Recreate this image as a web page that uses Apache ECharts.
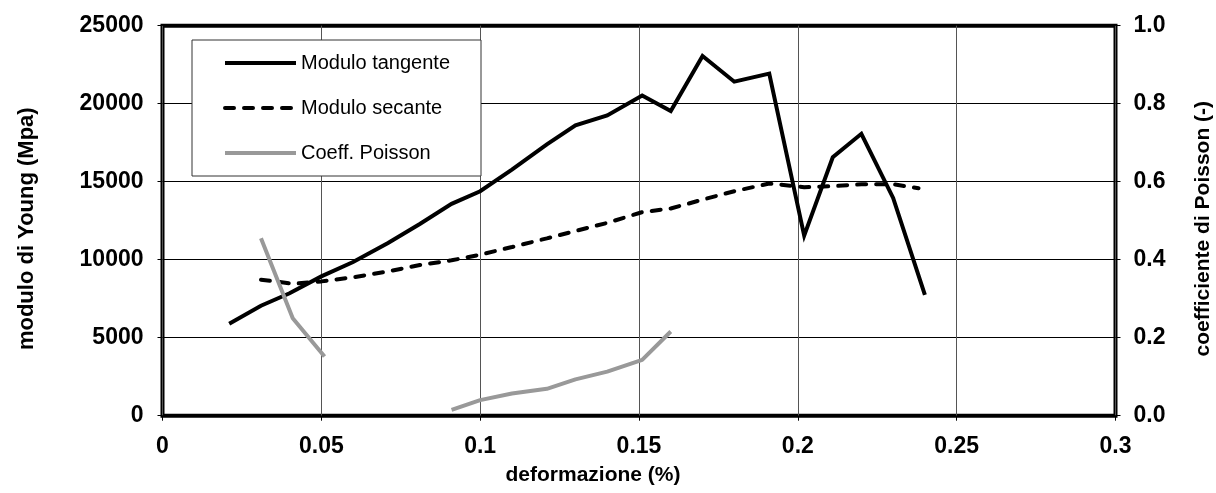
<!DOCTYPE html>
<html>
<head>
<meta charset="utf-8">
<script src="https://cdn.jsdelivr.net/npm/echarts@6/dist/echarts.min.js"></script>
<style>
  html, body { margin: 0; padding: 0; background: #fff; }
  #chart { width: 1216px; height: 493px; }
</style>
</head>
<body>
<div id="chart"></div>
<script>
// Strain values (%) and moduli (MPa) / Poisson ratio per series
const tangentStrain = [0.021, 0.031, 0.040, 0.050, 0.060, 0.071, 0.081, 0.091, 0.100, 0.110, 0.121, 0.130, 0.140, 0.151, 0.160, 0.170, 0.180, 0.191, 0.202, 0.211, 0.220, 0.230, 0.240];
const tangentModulus = [5900, 7050, 7850, 8930, 9850, 11070, 12290, 13580, 14390, 15780, 17390, 18610, 19250, 20530, 19530, 23060, 21410, 21930, 11540, 16570, 18070, 13960, 7750];

const secantStrain = [0.031, 0.041, 0.050, 0.060, 0.071, 0.081, 0.091, 0.100, 0.110, 0.121, 0.130, 0.140, 0.151, 0.160, 0.170, 0.180, 0.191, 0.202, 0.211, 0.220, 0.230, 0.238];
const secantModulus = [8720, 8460, 8610, 8870, 9250, 9660, 9960, 10320, 10810, 11370, 11840, 12360, 13050, 13280, 13850, 14390, 14880, 14650, 14710, 14840, 14840, 14580];

// two separate measurement runs; null splits the line
const poissonStrain = [0.031, 0.041, 0.051, null, 0.091, 0.100, 0.110, 0.121, 0.130, 0.140, 0.151, 0.160];
const poissonRatio = [0.455, 0.250, 0.152, null, 0.015, 0.040, 0.057, 0.069, 0.093, 0.113, 0.143, 0.216];

const xTicks = { min: 0, max: 0.3, interval: 0.05 };
const yLeftTicks = { min: 0, max: 25000, interval: 5000 };
const yRightTicks = { min: 0, max: 1, interval: 0.2 };

const FONT = '"Liberation Sans", Arial, sans-serif';

function pairs(xs, ys) {
  return xs.map((x, i) => (x === null || ys[i] === null) ? ['-', '-'] : [x, ys[i]]);
}

const tickLabel = { fontFamily: FONT, fontWeight: 'bold', fontSize: 23, color: '#000' };
const axisName = { fontFamily: FONT, fontWeight: 'bold', fontSize: 21, color: '#000' };

const chart = echarts.init(document.getElementById('chart'), null, { renderer: 'canvas' });

chart.setOption({
  animation: false,
  backgroundColor: '#fff',
  grid: {
    left: 162.5, right: 100.5, top: 25.7, bottom: 77.3,
    show: true, borderColor: '#000', borderWidth: 4, backgroundColor: 'transparent',
    containLabel: false,
    outerBoundsMode: 'none'
  },
  legend: {
    orient: 'vertical',
    left: 192, top: 40,
    padding: [13, 31, 13, 31],
    itemWidth: 71, itemHeight: 20, itemGap: 25,
    backgroundColor: '#fff',
    borderColor: '#333', borderWidth: 1,
    // line-only keys: hide the marker drawn on top of each line sample
    itemStyle: { opacity: 0 },
    lineStyle: { width: 4 },
    textStyle: { fontFamily: FONT, fontSize: 20, color: '#000' },
    data: ['Modulo tangente', 'Modulo secante', 'Coeff. Poisson']
  },
  xAxis: {
    type: 'value',
    min: xTicks.min, max: xTicks.max, interval: xTicks.interval,
    name: 'deformazione (%)',
    nameLocation: 'middle', nameGap: 49,
    nameTextStyle: Object.assign({}, axisName, { padding: [0, 92, 0, 0] }),
    axisLine: { show: false },
    axisTick: { show: true, length: 5, lineStyle: { color: '#000', width: 1 } },
    axisLabel: Object.assign({ margin: 19 }, tickLabel),
    splitLine: { show: true, lineStyle: { color: '#555', width: 1 } }
  },
  yAxis: [
    {
      type: 'value',
      min: yLeftTicks.min, max: yLeftTicks.max, interval: yLeftTicks.interval,
      name: 'modulo di Young (Mpa)',
      nameLocation: 'middle', nameGap: 125, nameRotate: 90,
      nameTextStyle: Object.assign({}, axisName, { fontSize: 22, padding: [0, 16, 0, 0] }),
      axisLine: { show: false },
      axisTick: { show: true, length: 5, lineStyle: { color: '#000', width: 1 } },
      axisLabel: Object.assign({ margin: 19, formatter: v => String(v) }, tickLabel),
      splitLine: { show: true, lineStyle: { color: '#000', width: 1 } }
    },
    {
      type: 'value',
      position: 'right',
      min: yRightTicks.min, max: yRightTicks.max, interval: yRightTicks.interval,
      name: 'coefficiente di Poisson (-)',
      nameLocation: 'middle', nameGap: 77, nameRotate: 90,
      nameTextStyle: Object.assign({}, axisName, { padding: [0, 16, 0, 0] }),
      axisLine: { show: false },
      axisTick: { show: true, length: 5, lineStyle: { color: '#000', width: 1 } },
      axisLabel: Object.assign({ margin: 18, formatter: v => v.toFixed(1) }, tickLabel),
      splitLine: { show: false }
    }
  ],
  series: [
    {
      name: 'Modulo tangente',
      type: 'line',
      yAxisIndex: 0,
      data: pairs(tangentStrain, tangentModulus),
      symbol: 'none',
      lineStyle: { color: '#000', width: 4, join: 'miter' },
      itemStyle: { color: '#000' },
      z: 3
    },
    {
      name: 'Modulo secante',
      type: 'line',
      yAxisIndex: 0,
      data: pairs(secantStrain, secantModulus),
      symbol: 'none',
      lineStyle: { color: '#000', width: 4, type: [9, 10], cap: 'round' },
      itemStyle: { color: '#000' },
      z: 2
    },
    {
      name: 'Coeff. Poisson',
      type: 'line',
      yAxisIndex: 1,
      data: pairs(poissonStrain, poissonRatio),
      connectNulls: false,
      symbol: 'none',
      lineStyle: { color: '#999', width: 4 },
      itemStyle: { color: '#999' },
      z: 4
    }
  ]
});
</script>
</body>
</html>
